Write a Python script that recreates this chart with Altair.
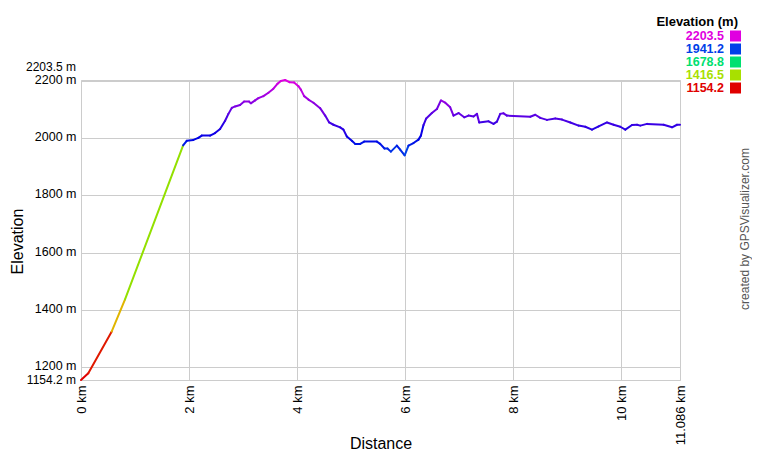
import altair as alt
import pandas as pd

# Track profile (distance km, elevation m)
dist_km = [0, 0.135, 0.569, 0.815, 1.890, 1.957, 2.080, 2.172, 2.235,
           2.389, 2.481, 2.574, 2.667, 2.728, 2.791, 2.852, 2.944, 3.019, 3.111,
           3.143, 3.222, 3.283, 3.376, 3.469, 3.561, 3.635, 3.698, 3.778, 3.857,
           3.944, 4.024, 4.069, 4.130, 4.209, 4.302, 4.426, 4.519, 4.593, 4.672,
           4.796, 4.857, 4.920, 5.013, 5.074, 5.167, 5.241, 5.476, 5.537, 5.617,
           5.672, 5.735, 5.846, 5.907, 5.990, 6.061, 6.154, 6.246, 6.291, 6.339,
           6.389, 6.494, 6.587, 6.661, 6.741, 6.833, 6.894, 6.987, 7.093, 7.172,
           7.265, 7.328, 7.370, 7.543, 7.635, 7.698, 7.759, 7.820, 7.883, 8.315,
           8.407, 8.500, 8.624, 8.778, 8.902, 9.056, 9.209, 9.333, 9.457, 9.580,
           9.735, 9.857, 9.981, 10.074, 10.198, 10.291, 10.352, 10.476, 10.783, 10.939,
           11.031, 11.086]
elev_m = [1154.2, 1178, 1324, 1436, 1975, 1991, 1994, 2001, 2009,
          2009, 2018, 2032, 2061, 2085, 2106, 2111, 2116, 2128, 2128,
          2122, 2132, 2140, 2147, 2159, 2173, 2190, 2200, 2203.5, 2196,
          2195, 2182, 2170, 2147, 2135, 2124, 2105, 2079, 2055, 2047,
          2038, 2030, 2006, 1991, 1980, 1980, 1988, 1988, 1980, 1964,
          1964, 1953, 1974, 1960, 1940, 1974, 1983, 1995, 2009, 2046,
          2069, 2088, 2102, 2132, 2124, 2108, 2079, 2088, 2073, 2079,
          2076, 2085, 2055, 2059, 2050, 2058, 2085, 2087, 2079, 2075,
          2082, 2071, 2064, 2069, 2065, 2055, 2044, 2040, 2030, 2041,
          2055, 2047, 2040, 2030, 2046, 2047, 2044, 2050, 2047, 2038,
          2047, 2047]

# Legend / colour stops
legend_values = [2203.5, 1941.2, 1678.8, 1416.5, 1154.2]
legend_colors = ["#e000e0", "#0040e8", "#00e070", "#a8e000", "#e00000"]

y_ticks = [1200, 1400, 1600, 1800, 2000, 2200]
x_ticks = [0, 2, 4, 6, 8, 10, 11.086]
y_min, y_max = 1154.2, 2203.5
x_max = 11.086

FONT = "Liberation Sans"

seg = pd.DataFrame({
    "d": dist_km[:-1], "e": elev_m[:-1],
    "d2": dist_km[1:], "e2": elev_m[1:],
})

xscale = alt.Scale(domain=[0, x_max], nice=False, zero=False)
yscale = alt.Scale(domain=[y_min, y_max], nice=False, zero=False)
cscale = alt.Scale(domain=legend_values[::-1], range=legend_colors[::-1], interpolate="hsl")

xaxis = alt.Axis(values=x_ticks, title="Distance", grid=True,
                 labelExpr="(datum.value == 11.086 ? '11.086' : format(datum.value, 'd')) + ' km'",
                 labelAngle=270, labelAlign="right", labelBaseline="middle",
                 labelPadding=5, labelFlush=False, labelOverlap=False, labelFontSize=13,
                 titleY=63, titleBaseline="middle")
yaxis = alt.Axis(values=y_ticks, title="Elevation", grid=True,
                 labelExpr="format(datum.value, 'd') + ' m'",
                 labelPadding=5, labelFlush=False, labelOverlap=False, labelOffset=-1.5,
                 labelFontSize=12.5,
                 titleAngle=270, titleX=-64, titleY=161, titleBaseline="middle",
                 titleAlign="center")

line = alt.Chart(seg).mark_rule(strokeWidth=2, strokeCap="round").encode(
    x=alt.X("d:Q", scale=xscale, axis=xaxis),
    x2="d2:Q",
    y=alt.Y("e:Q", scale=yscale, axis=yaxis),
    y2="e2:Q",
    color=alt.Color("e:Q", scale=cscale, legend=None),
)

one = pd.DataFrame({"a": [0]})
top_lab = alt.Chart(one).mark_text(align="right", baseline="middle", dy=-13,
                                   font=FONT, fontSize=12, color="black").encode(
    x=alt.value(-5), y=alt.datum(y_max), text=alt.value(f"{y_max} m"))
bot_lab = alt.Chart(one).mark_text(align="right", baseline="middle", dy=0,
                                   font=FONT, fontSize=12, color="black").encode(
    x=alt.value(-5), y=alt.datum(y_min), text=alt.value(f"{y_min} m"))

layers = [line, top_lab, bot_lab]

# legend block (drawn to the right of the plot)
layers.append(alt.Chart(one).mark_text(align="right", baseline="middle", font=FONT,
                                        fontSize=13, fontWeight="bold", color="black").encode(
    x=alt.value(657), y=alt.value(-58), text=alt.value("Elevation (m)")))
for i, (v, c) in enumerate(zip(legend_values, legend_colors)):
    yy = -44 + 13 * i
    layers.append(alt.Chart(one).mark_text(align="right", baseline="middle", font=FONT,
                                            fontSize=12.5, fontWeight="bold", color=c).encode(
        x=alt.value(643), y=alt.value(yy), text=alt.value(f"{v}")))
    layers.append(alt.Chart(one).mark_square(size=121, color=c, opacity=1, filled=True).encode(
        x=alt.value(654.5), y=alt.value(yy)))

layers.append(alt.Chart(one).mark_text(align="center", baseline="middle", angle=270, font=FONT,
                                        fontSize=12, color="#555555").encode(
    x=alt.value(664), y=alt.value(149), text=alt.value("created by GPSVisualizer.com")))

chart = alt.layer(*layers).properties(
    width=599, height=300,
    autosize=alt.AutoSizeParams(type="none"),
    padding={"left": 73, "top": 72, "right": 72, "bottom": 72},
    background="white",
).configure_view(stroke="#cccccc", strokeWidth=1).configure_axis(
    gridColor="#cccccc", gridWidth=1, domain=False, ticks=False,
    labelFont=FONT, labelColor="black",
    titleFont=FONT, titleFontSize=16, titleFontWeight="normal", titleColor="black",
)

chart.save("out.html", embed_options={"renderer": "svg", "actions": False})
